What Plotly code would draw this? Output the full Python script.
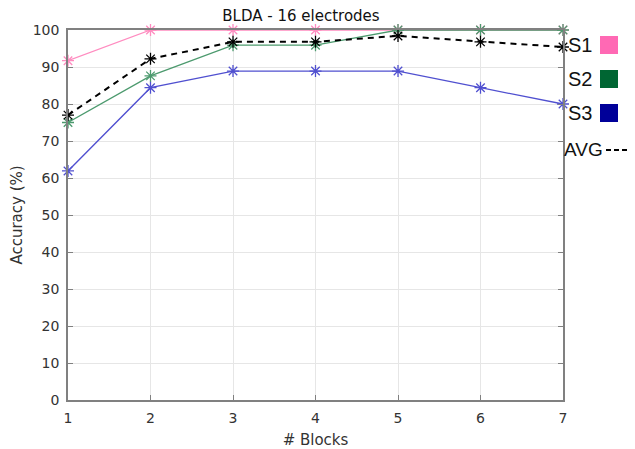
import plotly.graph_objects as go

blocks = [1, 2, 3, 4, 5, 6, 7]
s1 = [91.7, 100, 100, 100, 100, 100, 100]
s2 = [75.0, 87.6, 95.9, 95.9, 100, 100, 100]
s3 = [61.9, 84.4, 88.9, 88.9, 88.9, 84.4, 80.0]
avg = [77.0, 92.2, 96.8, 96.8, 98.4, 96.8, 95.4]
yticks = [0, 10, 20, 30, 40, 50, 60, 70, 80, 90, 100]

series = [
    ("S1", s1, "#ff8cc0", "#ff6eb4", "solid", "#ff69b4"),
    ("S2", s2, "#4c9a6e", "#1a7a46", "solid", "#006633"),
    ("S3", s3, "#5050d0", "#1010b0", "solid", "#000099"),
    ("AVG", avg, "#000000", "#000000", "dash", None),
]

# page body has an 8px default margin; figure is shifted by it
OX, OY = 8, 8
W, H = 635 - OX, 449 - OY
PL, PR, PT, PB = 68, 563, 30, 400  # plot area in window pixels


def px(x):
    return (x - PL) / (PR - PL)


def py(y):
    return 1 - (y - PT) / (PB - PT)


fig = go.Figure()
for name, vals, lc, mc, dash, sq in series:
    fig.add_trace(go.Scatter(
        x=blocks, y=vals, mode="lines+markers", name=name, cliponaxis=False,
        line=dict(color=lc, width=2 if dash == "dash" else 1.3,
                  dash="6px,5px" if dash == "dash" else "solid"),
        marker=dict(symbol="asterisk-open", size=10, line=dict(color=mc, width=1.3)),
        showlegend=False,
    ))

font = "DejaVu Sans, sans-serif"
lfont = "Liberation Sans, Arial, sans-serif"
ann = []
shapes = []
ly = [45, 79, 113]
for (name, vals, lc, mc, dash, sq), y in zip(series[:3], ly):
    ann.append(dict(xref="paper", yref="paper", x=px(566), y=py(y),
                    xanchor="left", yanchor="middle", text=name, showarrow=False,
                    font=dict(size=20, color="#111111", family=lfont)))
    shapes.append(dict(type="rect", xref="paper", yref="paper",
                       x0=px(600), x1=px(618), y0=py(y - 9), y1=py(y + 9),
                       fillcolor=sq, line=dict(width=0)))
ann.append(dict(xref="paper", yref="paper", x=px(562), y=py(149),
                xanchor="left", yanchor="middle", text="AVG", showarrow=False,
                font=dict(size=19, color="#111111", family=lfont)))
shapes.append(dict(type="line", xref="paper", yref="paper",
                   x0=px(606), x1=px(634), y0=py(150), y1=py(150),
                   line=dict(color="#000000", width=2, dash="5px,3px")))

fig.update_layout(
    width=W, height=H,
    margin=dict(l=PL - OX, r=W - (PR - OX), t=PT - OY, b=H - (PB - OY)),
    paper_bgcolor="white", plot_bgcolor="white",
    title=dict(text="BLDA - 16 electrodes", x=(301 - OX) / W, xanchor="center",
               y=1 - (16 - OY) / H, yanchor="middle",
               font=dict(size=15, color="#111111", family=font)),
    font=dict(family=font, color="#333333", size=14),
    annotations=ann, shapes=shapes,
)
fig.update_xaxes(range=[1, 7], tickvals=blocks, showgrid=True, gridcolor="#e6e6e6", gridwidth=1,
                 showline=True, linecolor="#808080", linewidth=1.5, mirror=True,
                 ticks="inside", ticklen=5, tickcolor="#808080", zeroline=False,
                 ticklabelstandoff=4, automargin=False,
                 title=dict(text="# Blocks", font=dict(size=15, color="#333333"), standoff=10),
                 tickfont=dict(size=14, color="#333333"))
fig.update_yaxes(range=[0, 100], tickvals=yticks, showgrid=True, gridcolor="#e6e6e6", gridwidth=1,
                 showline=True, linecolor="#808080", linewidth=1.5, mirror="ticks",
                 ticks="inside", ticklen=5, tickcolor="#808080", zeroline=False,
                 ticklabelstandoff=4, automargin=False,
                 title=dict(text="Accuracy (%)", font=dict(size=15, color="#333333"), standoff=8),
                 tickfont=dict(size=14, color="#333333"))

fig.write_html("out.html")
